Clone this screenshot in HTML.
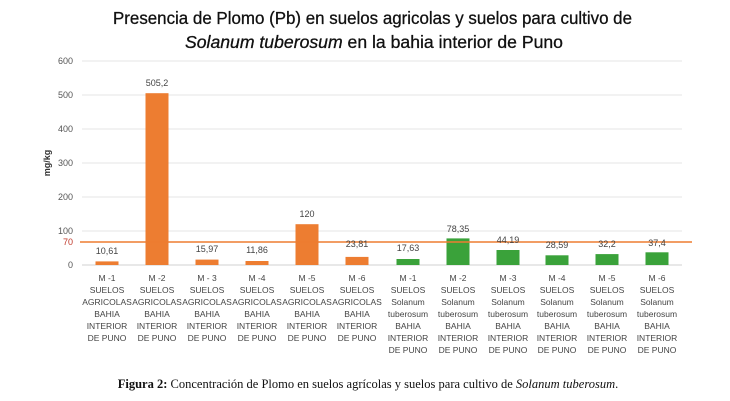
<!DOCTYPE html>
<html><head><meta charset="utf-8"><style>
body{margin:0;background:#fff;width:730px;height:401px;overflow:hidden}
svg{display:block}
</style></head><body>
<svg width="730" height="401" viewBox="0 0 730 401" font-family="Liberation Sans, sans-serif">
<text x="113" y="24" font-size="17.5" fill="#111" stroke="#111" stroke-width="0.3" textLength="519" lengthAdjust="spacingAndGlyphs">Presencia de Plomo (Pb) en suelos agricolas y suelos para cultivo de</text>
<text x="185" y="48" font-size="17.5" fill="#111" stroke="#111" stroke-width="0.3" textLength="378" lengthAdjust="spacingAndGlyphs"><tspan font-style="italic">Solanum tuberosum</tspan> en la bahia interior de Puno</text>
<g stroke="#e4e4e4" stroke-width="1">
<line x1="82" y1="61" x2="682" y2="61"/><line x1="82" y1="95" x2="682" y2="95"/>
<line x1="82" y1="129" x2="682" y2="129"/><line x1="82" y1="163" x2="682" y2="163"/>
<line x1="82" y1="197" x2="682" y2="197"/><line x1="82" y1="231" x2="682" y2="231"/>
<line x1="82" y1="265" x2="682" y2="265" stroke="#d0d0d0"/>
</g>
<g font-size="9" fill="#555" text-anchor="end">
<text x="73" y="64">600</text><text x="73" y="98">500</text><text x="73" y="132">400</text>
<text x="73" y="166">300</text><text x="73" y="200">200</text><text x="73" y="234">100</text>
<text x="73" y="245" fill="#c0392b">70</text><text x="73" y="268">0</text>
</g>
<text transform="translate(50,163) rotate(-90)" text-anchor="middle" font-size="9" font-weight="bold" fill="#333">mg/kg</text>
<g fill="#ed7d31">
<rect x="95.5" y="261.4" width="23" height="3.6"/>
<rect x="145.5" y="93.2" width="23" height="171.8"/>
<rect x="195.5" y="259.6" width="23" height="5.4"/>
<rect x="245.5" y="261" width="23" height="4"/>
<rect x="295.5" y="224.2" width="23" height="40.8"/>
<rect x="345.5" y="256.9" width="23" height="8.1"/>
</g>
<g fill="#3aa23a">
<rect x="396.5" y="259" width="23" height="6"/>
<rect x="446.5" y="238.4" width="23" height="26.6"/>
<rect x="496.5" y="250" width="23" height="15"/>
<rect x="545.5" y="255.3" width="23" height="9.7"/>
<rect x="595.5" y="254.1" width="23" height="10.9"/>
<rect x="645.5" y="252.3" width="23" height="12.7"/>
</g>
<line x1="80" y1="242" x2="692" y2="242" stroke="#ed7d31" stroke-width="1.5"/>
<g font-size="9" fill="#444" text-anchor="middle">
<text x="107" y="254">10,61</text><text x="157" y="86">505,2</text><text x="207" y="252">15,97</text>
<text x="257" y="253">11,86</text><text x="307" y="217">120</text><text x="357" y="247">23,81</text>
<text x="408" y="251">17,63</text><text x="458" y="232">78,35</text><text x="508" y="243">44,19</text>
<text x="557" y="248">28,59</text><text x="607" y="247">32,2</text><text x="657" y="246">37,4</text>
</g>
<g font-size="8.5" fill="#444" text-anchor="middle">
<text x="107" y="281">M -1</text><text x="157" y="281">M -2</text><text x="207" y="281">M - 3</text>
<text x="257" y="281">M -4</text><text x="307" y="281">M -5</text><text x="357" y="281">M -6</text>
<text x="408" y="281">M -1</text><text x="458" y="281">M -2</text><text x="508" y="281">M -3</text>
<text x="557" y="281">M -4</text><text x="607" y="281">M -5</text><text x="657" y="281">M -6</text>
<g>
<text x="107" y="293">SUELOS</text><text x="157" y="293">SUELOS</text><text x="207" y="293">SUELOS</text><text x="257" y="293">SUELOS</text><text x="307" y="293">SUELOS</text><text x="357" y="293">SUELOS</text>
<text x="107" y="305">AGRICOLAS</text><text x="157" y="305">AGRICOLAS</text><text x="207" y="305">AGRICOLAS</text><text x="257" y="305">AGRICOLAS</text><text x="307" y="305">AGRICOLAS</text><text x="357" y="305">AGRICOLAS</text>
<text x="107" y="317">BAHIA</text><text x="157" y="317">BAHIA</text><text x="207" y="317">BAHIA</text><text x="257" y="317">BAHIA</text><text x="307" y="317">BAHIA</text><text x="357" y="317">BAHIA</text>
<text x="107" y="329">INTERIOR</text><text x="157" y="329">INTERIOR</text><text x="207" y="329">INTERIOR</text><text x="257" y="329">INTERIOR</text><text x="307" y="329">INTERIOR</text><text x="357" y="329">INTERIOR</text>
<text x="107" y="341">DE PUNO</text><text x="157" y="341">DE PUNO</text><text x="207" y="341">DE PUNO</text><text x="257" y="341">DE PUNO</text><text x="307" y="341">DE PUNO</text><text x="357" y="341">DE PUNO</text>
</g>
<g>
<text x="408" y="293">SUELOS</text><text x="458" y="293">SUELOS</text><text x="508" y="293">SUELOS</text><text x="557" y="293">SUELOS</text><text x="607" y="293">SUELOS</text><text x="657" y="293">SUELOS</text>
<text x="408" y="305">Solanum</text><text x="458" y="305">Solanum</text><text x="508" y="305">Solanum</text><text x="557" y="305">Solanum</text><text x="607" y="305">Solanum</text><text x="657" y="305">Solanum</text>
<text x="408" y="317">tuberosum</text><text x="458" y="317">tuberosum</text><text x="508" y="317">tuberosum</text><text x="557" y="317">tuberosum</text><text x="607" y="317">tuberosum</text><text x="657" y="317">tuberosum</text>
<text x="408" y="329">BAHIA</text><text x="458" y="329">BAHIA</text><text x="508" y="329">BAHIA</text><text x="557" y="329">BAHIA</text><text x="607" y="329">BAHIA</text><text x="657" y="329">BAHIA</text>
<text x="408" y="341">INTERIOR</text><text x="458" y="341">INTERIOR</text><text x="508" y="341">INTERIOR</text><text x="557" y="341">INTERIOR</text><text x="607" y="341">INTERIOR</text><text x="657" y="341">INTERIOR</text>
<text x="408" y="353">DE PUNO</text><text x="458" y="353">DE PUNO</text><text x="508" y="353">DE PUNO</text><text x="557" y="353">DE PUNO</text><text x="607" y="353">DE PUNO</text><text x="657" y="353">DE PUNO</text>
</g>
</g>
<text x="368" y="388" text-anchor="middle" font-family="Liberation Serif, serif" font-size="12.5" fill="#111"><tspan font-weight="bold">Figura 2:</tspan> Concentración de Plomo en suelos agrícolas y suelos para cultivo de <tspan font-style="italic">Solanum tuberosum</tspan>.</text>
</svg>
</body></html>
